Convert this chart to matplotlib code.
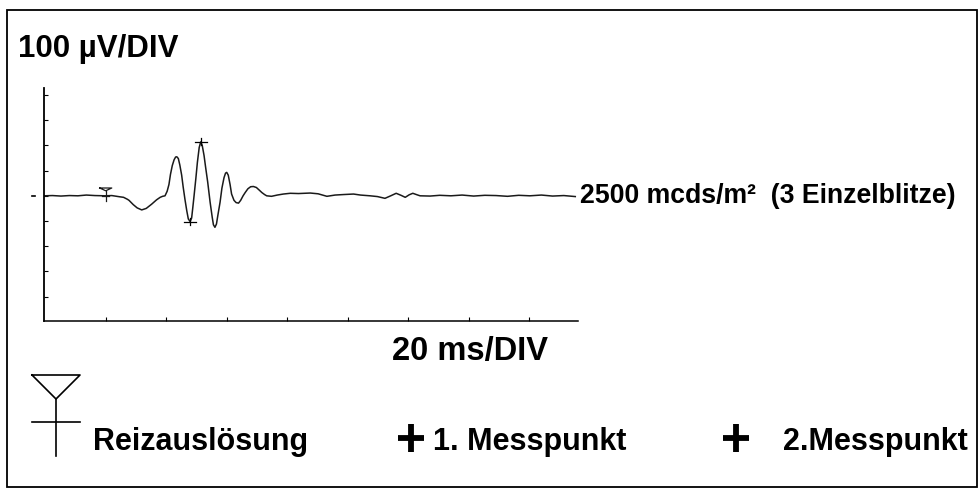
import matplotlib.pyplot as plt
from matplotlib.lines import Line2D
from matplotlib.patches import Rectangle
import matplotlib.transforms as mtransforms

plt.rcParams['font.family'] = ['Liberation Sans', 'DejaVu Sans']

# ERG trace: time in ms, amplitude in microvolt
t_ms = [-0.4, 2.4, 5.2, 8.0, 10.8, 13.6, 16.4, 19.8, 22.0, 24.7, 25.9, 27.2, 27.7,
        29.1, 30.4, 31.9, 33.4, 35.2, 36.8, 38.0, 38.8, 39.6, 40.3, 40.9, 41.4,
        42.0, 42.6, 43.1, 43.5, 44.0, 44.5, 45.1, 45.6, 46.2, 46.8, 47.3, 47.9,
        48.4, 48.8, 49.2, 49.8, 50.3, 50.9, 51.4, 51.9, 52.5, 53.0, 53.7, 54.5,
        55.2, 55.6, 56.1, 56.6, 57.1, 57.8, 58.4, 59.1, 59.6, 60.0, 60.5, 61.1,
        61.6, 62.4, 63.1, 63.9, 64.6, 65.4, 66.1, 67.0, 67.9, 68.8, 69.8, 70.8,
        71.6, 72.5, 73.2, 74.8, 76.7, 78.7, 81.0, 83.7, 87.6, 90.2, 93.1, 95.8,
        98.6, 101.9, 104.2, 107.4, 109.8, 112.3, 114.2, 116.0, 117.6, 119.0, 120.3,
        121.5, 122.9, 123.9, 127.2, 130.4, 134.1, 137.8, 141.6, 145.3, 149.0, 152.8,
        156.5, 160.2, 164.0, 167.7, 171.4, 175.2]
amp_uv = [0, 1, -1, 1, 0, 3, 1, 0, 1, -4, -6, -14, -18,
          -35, -48, -56, -50, -33, -16, -6, -2, 0, 18, 45, 85,
          120, 143, 154, 155, 148, 122, 82, 35, -15, -60, -92, -102,
          -88, -45, 0, 70, 133, 192, 214, 200, 160, 115, 55, -25,
          -85, -115, -125, -112, -75, -25, 30, 72, 90, 93, 82, 45,
          7, -18, -27, -29, -18, 0, 13, 28, 36, 37, 33, 22,
          13, 5, 0, -2, 3, 7, 10, 9, 11, 8, -2, 3,
          5, 7, 3, 0, -3, -10, 0, 10, 2, -6, 4,
          10, 4, 0, -1, 2, 0, 3, -1, 2, 1, -2,
          2, 0, 3, -1, 1, -3]

trigger_ms = 20.0
mess1 = (47.9, -102)
mess2 = (51.4, 214)

y_ticks = [-400, -300, -200, -100, 0, 100, 200, 300, 400]
x_ticks = [20, 40, 60, 80, 100, 120, 140, 160]

W, H = 979, 489
fig = plt.figure(figsize=(W / 100, H / 100), dpi=100)


def fx(px):
    return px / W


def fy(py):
    return 1 - py / H


# outer frame
fig.add_artist(Rectangle((fx(7), fy(488)), fx(977) - fx(7), fy(11) - fy(488),
                         transform=fig.transFigure, fill=False, lw=1.3, ec='black'))

ax = fig.add_axes([fx(44), fy(322), fx(578) - fx(44), fy(89) - fy(322)])
ax.plot(t_ms, amp_uv, color='#1a1a1a', lw=1.1)
ax.set_xlim(-0.4, 176.1)
ax.set_ylim(-497, 428)
for s in ['top', 'right']:
    ax.spines[s].set_visible(False)
ax.spines['left'].set_linewidth(1.3)
ax.spines['bottom'].set_linewidth(1.1)
ax.set_xticks(x_ticks)
ax.set_yticks(y_ticks)
ax.tick_params(direction='in', length=3, width=0.8, labelleft=False, labelbottom=False)

# trigger mark on the trace
tw = 2.0
ax.plot([trigger_ms - tw, trigger_ms + tw, trigger_ms, trigger_ms - tw], [31, 31, 20, 31],
        color='#1a1a1a', lw=0.9)
ax.plot([trigger_ms, trigger_ms], [20, -20], color='#1a1a1a', lw=0.9)
ax.plot([trigger_ms - 1.1, trigger_ms + 1.1], [0, 0], color='#1a1a1a', lw=0.9)

# measuring points
for mx, my in [mess1, mess2]:
    ax.plot([mx - 2.0, mx + 2.0], [my, my], color='black', lw=0.9)
    ax.plot([mx, mx], [my - 14, my + 14], color='black', lw=0.9)

# small dash left of the axis at zero
trans = mtransforms.blended_transform_factory(ax.transAxes, ax.transData)
ax.plot([-0.0225, -0.017], [0, 0], color='black', lw=1.2, transform=trans, clip_on=False)

# texts
fig.text(fx(18), fy(57), '100 µV/DIV', fontsize=22.5, fontweight='bold', va='baseline')
fig.text(fx(392), fy(360), '20 ms/DIV', fontsize=23.5, fontweight='bold', va='baseline')
fig.text(fx(580), fy(203), '2500 mcds/m²  (3 Einzelblitze)', fontsize=19.2,
         fontweight='bold', va='baseline')
fig.text(fx(93), fy(450), 'Reizauslösung', fontsize=22, fontweight='bold', va='baseline')
fig.text(fx(433), fy(450), '1. Messpunkt', fontsize=22, fontweight='bold', va='baseline')
fig.text(fx(783), fy(450), '2.Messpunkt', fontsize=22, fontweight='bold', va='baseline')

# bold plus signs of the legend
for cx in [411, 736]:
    fig.add_artist(Line2D([fx(cx - 13), fx(cx + 13)], [fy(439), fy(439)], lw=4.2,
                          color='black', solid_capstyle='butt', transform=fig.transFigure))
    fig.add_artist(Line2D([fx(cx), fx(cx)], [fy(425), fy(453)], lw=4.2,
                          color='black', solid_capstyle='butt', transform=fig.transFigure))

# trigger symbol of the legend
fig.add_artist(Line2D([fx(32), fx(80), fx(56), fx(32)], [fy(376), fy(376), fy(400), fy(376)],
                      lw=1.2, color='black', transform=fig.transFigure))
fig.add_artist(Line2D([fx(56), fx(56)], [fy(400), fy(457)], lw=1.2, color='black',
                      transform=fig.transFigure))
fig.add_artist(Line2D([fx(32), fx(80)], [fy(423), fy(423)], lw=1.2, color='black',
                      transform=fig.transFigure))

fig.savefig('out.png', dpi=100)
